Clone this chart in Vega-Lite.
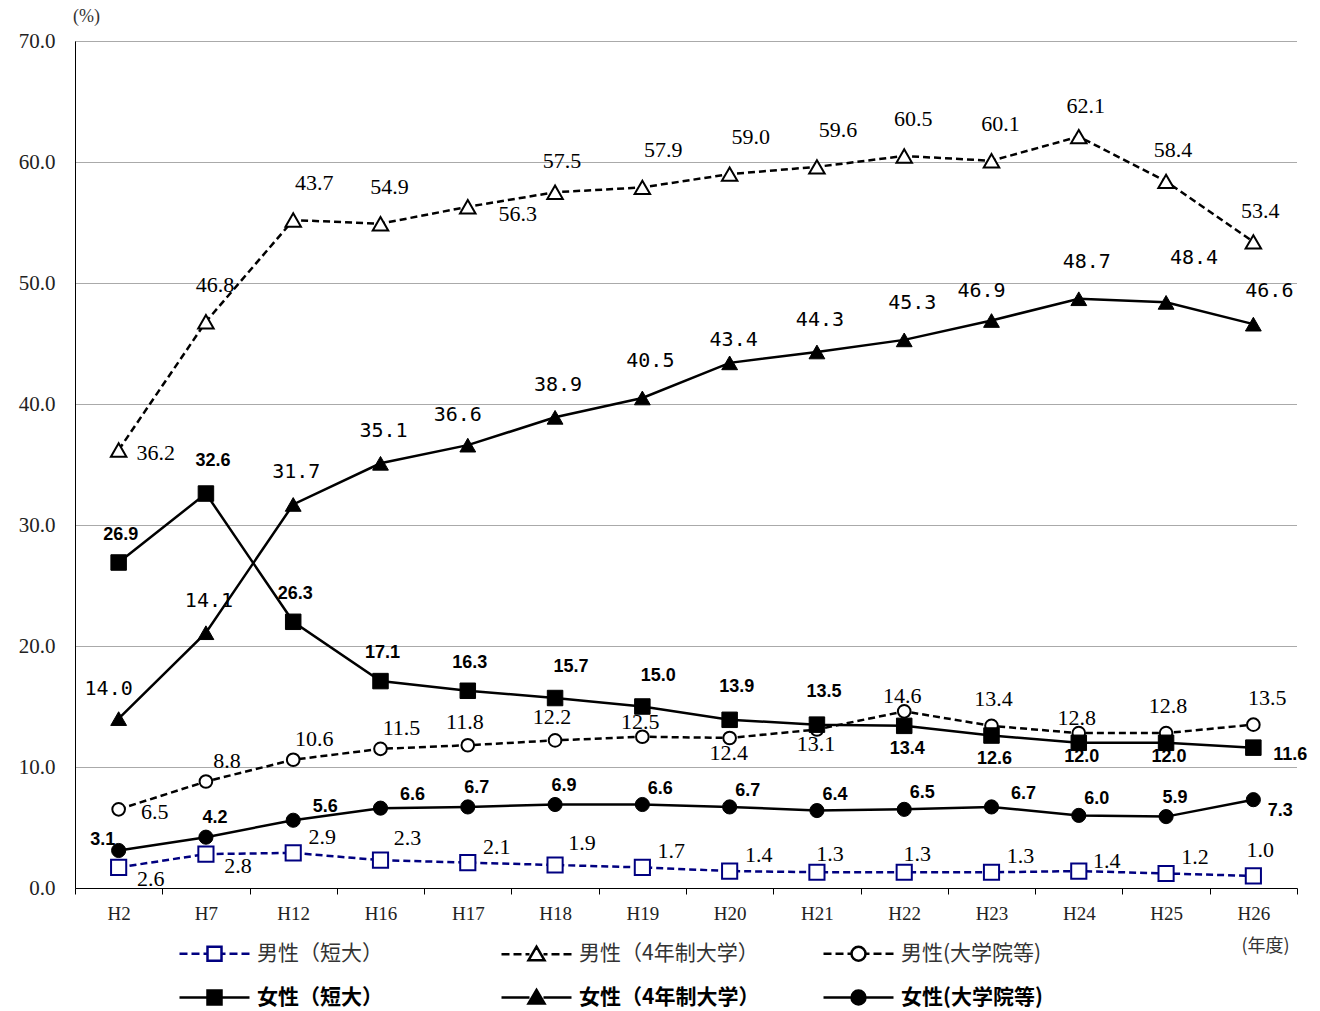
{
"$schema":"https://vega.github.io/schema/vega-lite/v6.json",
"width":1222,"height":847,"autosize":"none",
"padding":{"left":75,"top":41,"right":23,"bottom":123},
"background":"white",
"config":{
 "view":{"stroke":null},
 "style":{
  "ml":{"font":"Liberation Serif","fontSize":22,"fill":"#3a3a3a"},
  "fm":{"font":"DejaVu Sans Mono","fontSize":20,"fill":"#000"},
  "fb":{"font":"Liberation Sans","fontSize":18,"fontWeight":"bold","fill":"#000"}
 },
 "legend":{"orient":"none","legendX":118,"legendY":891,"columns":3,"direction":"horizontal","symbolSize":1600,"symbolStrokeWidth":2.5,"labelFont":"Noto Sans CJK JP","labelFontSize":21,"labelOffset":21,"columnPadding":58,"rowPadding":10,"gridAlign":"all","padding":0,"labelLimit":400}
},
"data":{"values":[
{"s":"男性（短大）","year":"H2","v":1.7,"t":"2.6"},
{"s":"男性（短大）","year":"H7","v":2.8,"t":"2.8"},
{"s":"男性（短大）","year":"H12","v":2.9,"t":"2.9"},
{"s":"男性（短大）","year":"H16","v":2.3,"t":"2.3"},
{"s":"男性（短大）","year":"H17","v":2.1,"t":"2.1"},
{"s":"男性（短大）","year":"H18","v":1.9,"t":"1.9"},
{"s":"男性（短大）","year":"H19","v":1.7,"t":"1.7"},
{"s":"男性（短大）","year":"H20","v":1.4,"t":"1.4"},
{"s":"男性（短大）","year":"H21","v":1.3,"t":"1.3"},
{"s":"男性（短大）","year":"H22","v":1.3,"t":"1.3"},
{"s":"男性（短大）","year":"H23","v":1.3,"t":"1.3"},
{"s":"男性（短大）","year":"H24","v":1.4,"t":"1.4"},
{"s":"男性（短大）","year":"H25","v":1.2,"t":"1.2"},
{"s":"男性（短大）","year":"H26","v":1.0,"t":"1.0"},
{"s":"男性（4年制大学）","year":"H2","v":36.2,"t":"36.2"},
{"s":"男性（4年制大学）","year":"H7","v":46.8,"t":"46.8"},
{"s":"男性（4年制大学）","year":"H12","v":55.2,"t":"43.7"},
{"s":"男性（4年制大学）","year":"H16","v":54.9,"t":"54.9"},
{"s":"男性（4年制大学）","year":"H17","v":56.3,"t":"56.3"},
{"s":"男性（4年制大学）","year":"H18","v":57.5,"t":"57.5"},
{"s":"男性（4年制大学）","year":"H19","v":57.9,"t":"57.9"},
{"s":"男性（4年制大学）","year":"H20","v":59.0,"t":"59.0"},
{"s":"男性（4年制大学）","year":"H21","v":59.6,"t":"59.6"},
{"s":"男性（4年制大学）","year":"H22","v":60.5,"t":"60.5"},
{"s":"男性（4年制大学）","year":"H23","v":60.1,"t":"60.1"},
{"s":"男性（4年制大学）","year":"H24","v":62.1,"t":"62.1"},
{"s":"男性（4年制大学）","year":"H25","v":58.4,"t":"58.4"},
{"s":"男性（4年制大学）","year":"H26","v":53.4,"t":"53.4"},
{"s":"男性(大学院等)","year":"H2","v":6.5,"t":"6.5"},
{"s":"男性(大学院等)","year":"H7","v":8.8,"t":"8.8"},
{"s":"男性(大学院等)","year":"H12","v":10.6,"t":"10.6"},
{"s":"男性(大学院等)","year":"H16","v":11.5,"t":"11.5"},
{"s":"男性(大学院等)","year":"H17","v":11.8,"t":"11.8"},
{"s":"男性(大学院等)","year":"H18","v":12.2,"t":"12.2"},
{"s":"男性(大学院等)","year":"H19","v":12.5,"t":"12.5"},
{"s":"男性(大学院等)","year":"H20","v":12.4,"t":"12.4"},
{"s":"男性(大学院等)","year":"H21","v":13.1,"t":"13.1"},
{"s":"男性(大学院等)","year":"H22","v":14.6,"t":"14.6"},
{"s":"男性(大学院等)","year":"H23","v":13.4,"t":"13.4"},
{"s":"男性(大学院等)","year":"H24","v":12.8,"t":"12.8"},
{"s":"男性(大学院等)","year":"H25","v":12.8,"t":"12.8"},
{"s":"男性(大学院等)","year":"H26","v":13.5,"t":"13.5"},
{"s":"女性（短大）","year":"H2","v":26.9,"t":"26.9"},
{"s":"女性（短大）","year":"H7","v":32.6,"t":"32.6"},
{"s":"女性（短大）","year":"H12","v":22.0,"t":"26.3"},
{"s":"女性（短大）","year":"H16","v":17.1,"t":"17.1"},
{"s":"女性（短大）","year":"H17","v":16.3,"t":"16.3"},
{"s":"女性（短大）","year":"H18","v":15.7,"t":"15.7"},
{"s":"女性（短大）","year":"H19","v":15.0,"t":"15.0"},
{"s":"女性（短大）","year":"H20","v":13.9,"t":"13.9"},
{"s":"女性（短大）","year":"H21","v":13.5,"t":"13.5"},
{"s":"女性（短大）","year":"H22","v":13.4,"t":"13.4"},
{"s":"女性（短大）","year":"H23","v":12.6,"t":"12.6"},
{"s":"女性（短大）","year":"H24","v":12.0,"t":"12.0"},
{"s":"女性（短大）","year":"H25","v":12.0,"t":"12.0"},
{"s":"女性（短大）","year":"H26","v":11.6,"t":"11.6"},
{"s":"女性（4年制大学）","year":"H2","v":14.0,"t":"14.0"},
{"s":"女性（4年制大学）","year":"H7","v":21.1,"t":"14.1"},
{"s":"女性（4年制大学）","year":"H12","v":31.7,"t":"31.7"},
{"s":"女性（4年制大学）","year":"H16","v":35.1,"t":"35.1"},
{"s":"女性（4年制大学）","year":"H17","v":36.6,"t":"36.6"},
{"s":"女性（4年制大学）","year":"H18","v":38.9,"t":"38.9"},
{"s":"女性（4年制大学）","year":"H19","v":40.5,"t":"40.5"},
{"s":"女性（4年制大学）","year":"H20","v":43.4,"t":"43.4"},
{"s":"女性（4年制大学）","year":"H21","v":44.3,"t":"44.3"},
{"s":"女性（4年制大学）","year":"H22","v":45.3,"t":"45.3"},
{"s":"女性（4年制大学）","year":"H23","v":46.9,"t":"46.9"},
{"s":"女性（4年制大学）","year":"H24","v":48.7,"t":"48.7"},
{"s":"女性（4年制大学）","year":"H25","v":48.4,"t":"48.4"},
{"s":"女性（4年制大学）","year":"H26","v":46.6,"t":"46.6"},
{"s":"女性(大学院等)","year":"H2","v":3.1,"t":"3.1"},
{"s":"女性(大学院等)","year":"H7","v":4.2,"t":"4.2"},
{"s":"女性(大学院等)","year":"H12","v":5.6,"t":"5.6"},
{"s":"女性(大学院等)","year":"H16","v":6.6,"t":"6.6"},
{"s":"女性(大学院等)","year":"H17","v":6.7,"t":"6.7"},
{"s":"女性(大学院等)","year":"H18","v":6.9,"t":"6.9"},
{"s":"女性(大学院等)","year":"H19","v":6.9,"t":"6.6"},
{"s":"女性(大学院等)","year":"H20","v":6.7,"t":"6.7"},
{"s":"女性(大学院等)","year":"H21","v":6.4,"t":"6.4"},
{"s":"女性(大学院等)","year":"H22","v":6.5,"t":"6.5"},
{"s":"女性(大学院等)","year":"H23","v":6.7,"t":"6.7"},
{"s":"女性(大学院等)","year":"H24","v":6.0,"t":"6.0"},
{"s":"女性(大学院等)","year":"H25","v":5.9,"t":"5.9"},
{"s":"女性(大学院等)","year":"H26","v":7.3,"t":"7.3"}
]},
"encoding":{
 "x":{"field":"year","type":"ordinal","bandPosition":0.5,
  "sort":["H2","H7","H12","H16","H17","H18","H19","H20","H21","H22","H23","H24","H25","H26"],
  "scale":{"type":"band","paddingInner":0,"paddingOuter":0},
  "axis":{"title":"(年度)","titleFont":"Noto Sans CJK JP","titleFontSize":18,"titleFontWeight":"normal","titleColor":"#333","titleX":1190,"titleY":58,"titleAlign":"center","titleBaseline":"middle",
   "labelAngle":0,"labelFont":"Liberation Serif","labelFontSize":19,"labelColor":"#222","labelPadding":10,"tickBand":"extent","tickSize":6,"tickColor":"#000","domainColor":"#000","grid":false}},
 "y":{"field":"v","type":"quantitative","scale":{"domain":[0,70]},
  "axis":{"values":[0,10,20,30,40,50,60,70],"format":".1f","ticks":false,"labelPadding":20,"labelFont":"Liberation Serif","labelFontSize":21,"labelColor":"#222","domainColor":"#000","gridColor":"#555","gridDash":[1,1],"gridWidth":1,
   "title":"(%)","titleAngle":0,"titleX":11,"titleY":-25,"titleAlign":"center","titleBaseline":"middle","titleFont":"Liberation Serif","titleFontSize":18,"titleFontWeight":"normal","titleColor":"#333"}}
},
"layer":[
 {"transform":[{"filter":"false"}],
  "mark":{"type":"point","filled":true,"opacity":1},
  "encoding":{
   "shape":{"field":"s","type":"nominal","scale":{"domain":["男性（短大）","男性（4年制大学）","男性(大学院等)","女性（短大）","女性（4年制大学）","女性(大学院等)"],
     "range":["M-1.75,0L-1.35,0M-1.15,0L-0.75,0M-0.55,0L-0.35,0M0.35,0L0.55,0M0.75,0L1.15,0M1.35,0L1.75,0M-0.35,-0.35L0.35,-0.35L0.35,0.35L-0.35,0.35Z",
      "M-1.75,0L-1.35,0M-1.15,0L-0.75,0M-0.55,0L-0.35,0M0.35,0L0.55,0M0.75,0L1.15,0M1.35,0L1.75,0M0,-0.38L0.4,0.3L-0.4,0.3Z",
      "M-1.75,0L-1.35,0M-1.15,0L-0.75,0M-0.55,0L-0.35,0M0.35,0L0.55,0M0.75,0L1.15,0M1.35,0L1.75,0M-0.35,0A0.35,0.35,0,1,0,0.35,0A0.35,0.35,0,1,0,-0.35,0Z",
      "M-1.75,0L-0.35,0M0.35,0L1.75,0M-0.35,-0.35L0.35,-0.35L0.35,0.35L-0.35,0.35Z",
      "M-1.75,0L-0.35,0M0.35,0L1.75,0M0,-0.38L0.4,0.3L-0.4,0.3Z",
      "M-1.75,0L-0.35,0M0.35,0L1.75,0M-0.35,0A0.35,0.35,0,1,0,0.35,0A0.35,0.35,0,1,0,-0.35,0Z"]},
    "legend":{"title":null,"labelFontWeight":{"expr":"indexof(datum.label,'女性')===0?'bold':'normal'"},"labelColor":{"expr":"indexof(datum.label,'女性')===0?'#000':'#333'"}}},
   "fill":{"field":"s","type":"nominal","scale":{"domain":["男性（短大）","男性（4年制大学）","男性(大学院等)","女性（短大）","女性（4年制大学）","女性(大学院等)"],"range":["#fff","#fff","#fff","#000","#000","#000"]},
    "legend":{"title":null,"labelFontWeight":{"expr":"indexof(datum.label,'女性')===0?'bold':'normal'"},"labelColor":{"expr":"indexof(datum.label,'女性')===0?'#000':'#333'"}}},
   "stroke":{"field":"s","type":"nominal","scale":{"domain":["男性（短大）","男性（4年制大学）","男性(大学院等)","女性（短大）","女性（4年制大学）","女性(大学院等)"],"range":["#000080","#000","#000","#000","#000","#000"]},
    "legend":{"title":null,"labelFontWeight":{"expr":"indexof(datum.label,'女性')===0?'bold':'normal'"},"labelColor":{"expr":"indexof(datum.label,'女性')===0?'#000':'#333'"}}}
  }},
 {"transform":[{"filter":{"field":"s","equal":"男性（短大）"}}],"mark":{"type":"line","stroke":"#000080","strokeWidth":2.5,"strokeDash":[7,4]},"encoding":{}},
 {"transform":[{"filter":{"field":"s","oneOf":["男性（4年制大学）","男性(大学院等)"]}}],"mark":{"type":"line","stroke":"#000","strokeWidth":2.5,"strokeDash":[7,4]},"encoding":{"detail":{"field":"s"}}},
 {"transform":[{"filter":{"field":"s","oneOf":["女性（短大）","女性（4年制大学）","女性(大学院等)"]}}],"mark":{"type":"line","stroke":"#000","strokeWidth":2.5},"encoding":{"detail":{"field":"s"}}},
 {"transform":[{"filter":{"field":"s","equal":"男性（短大）"}}],"mark":{"type":"point","shape":"square","size":230,"fill":"#fff","filled":true,"stroke":"#000080","strokeWidth":2,"opacity":1}},
 {"transform":[{"filter":{"field":"s","equal":"男性（4年制大学）"}}],"mark":{"type":"point","shape":"triangle-up","size":240,"fill":"#fff","filled":true,"stroke":"#000","strokeWidth":2,"opacity":1}},
 {"transform":[{"filter":{"field":"s","equal":"男性(大学院等)"}}],"mark":{"type":"point","shape":"circle","size":160,"fill":"#fff","filled":true,"stroke":"#000","strokeWidth":2,"opacity":1}},
 {"transform":[{"filter":{"field":"s","equal":"女性（短大）"}}],"mark":{"type":"point","shape":"square","size":240,"fill":"#000","filled":true,"stroke":"#000","strokeWidth":1,"opacity":1}},
 {"transform":[{"filter":{"field":"s","equal":"女性（4年制大学）"}}],"mark":{"type":"point","shape":"triangle-up","size":250,"fill":"#000","filled":true,"stroke":"#000","strokeWidth":1,"opacity":1}},
 {"transform":[{"filter":{"field":"s","equal":"女性(大学院等)"}}],"mark":{"type":"point","shape":"circle","size":200,"fill":"#000","filled":true,"stroke":"#000","strokeWidth":1,"opacity":1}},

 {"transform":[{"filter":{"and":[{"field":"s","equal":"男性（4年制大学）"},{"field":"year","oneOf":["H12","H19","H20","H21"]}]}}],"mark":{"type":"text","style":"ml","dx":21,"dy":-37},"encoding":{"text":{"field":"t"}}},
 {"transform":[{"filter":{"and":[{"field":"s","equal":"男性（4年制大学）"},{"field":"year","oneOf":["H7","H16","H22","H23"]}]}}],"mark":{"type":"text","style":"ml","dx":9,"dy":-37},"encoding":{"text":{"field":"t"}}},
 {"transform":[{"filter":{"and":[{"field":"s","equal":"男性（4年制大学）"},{"field":"year","oneOf":["H18","H24","H25","H26"]}]}}],"mark":{"type":"text","style":"ml","dx":7,"dy":-31},"encoding":{"text":{"field":"t"}}},
 {"transform":[{"filter":{"and":[{"field":"s","equal":"男性（4年制大学）"},{"field":"year","oneOf":["H2"]}]}}],"mark":{"type":"text","style":"ml","dx":37,"dy":3},"encoding":{"text":{"field":"t"}}},
 {"transform":[{"filter":{"and":[{"field":"s","equal":"男性（4年制大学）"},{"field":"year","oneOf":["H17"]}]}}],"mark":{"type":"text","style":"ml","dx":50,"dy":7},"encoding":{"text":{"field":"t"}}},

 {"transform":[{"filter":{"and":[{"field":"s","equal":"女性（4年制大学）"},{"field":"year","oneOf":["H7","H12","H16","H18","H21"]}]}}],"mark":{"type":"text","style":"fm","dx":3,"dy":-32},"encoding":{"text":{"field":"t"}}},
 {"transform":[{"filter":{"and":[{"field":"s","equal":"女性（4年制大学）"},{"field":"year","oneOf":["H19","H22","H24"]}]}}],"mark":{"type":"text","style":"fm","dx":8,"dy":-37},"encoding":{"text":{"field":"t"}}},
 {"transform":[{"filter":{"and":[{"field":"s","equal":"女性（4年制大学）"},{"field":"year","oneOf":["H2","H17","H23"]}]}}],"mark":{"type":"text","style":"fm","dx":-10,"dy":-30},"encoding":{"text":{"field":"t"}}},
 {"transform":[{"filter":{"and":[{"field":"s","equal":"女性（4年制大学）"},{"field":"year","oneOf":["H20"]}]}}],"mark":{"type":"text","style":"fm","dx":4,"dy":-23},"encoding":{"text":{"field":"t"}}},
 {"transform":[{"filter":{"and":[{"field":"s","equal":"女性（4年制大学）"},{"field":"year","oneOf":["H25"]}]}}],"mark":{"type":"text","style":"fm","dx":28,"dy":-44},"encoding":{"text":{"field":"t"}}},
 {"transform":[{"filter":{"and":[{"field":"s","equal":"女性（4年制大学）"},{"field":"year","oneOf":["H26"]}]}}],"mark":{"type":"text","style":"fm","dx":16,"dy":-33},"encoding":{"text":{"field":"t"}}},

 {"transform":[{"filter":{"and":[{"field":"s","equal":"女性（短大）"},{"field":"year","oneOf":["H2","H12","H16","H17"]}]}}],"mark":{"type":"text","style":"fb","dx":2,"dy":-28},"encoding":{"text":{"field":"t"}}},
 {"transform":[{"filter":{"and":[{"field":"s","equal":"女性（短大）"},{"field":"year","oneOf":["H7","H20","H21"]}]}}],"mark":{"type":"text","style":"fb","dx":7,"dy":-33},"encoding":{"text":{"field":"t"}}},
 {"transform":[{"filter":{"and":[{"field":"s","equal":"女性（短大）"},{"field":"year","oneOf":["H18","H19"]}]}}],"mark":{"type":"text","style":"fb","dx":16,"dy":-31},"encoding":{"text":{"field":"t"}}},
 {"transform":[{"filter":{"and":[{"field":"s","equal":"女性（短大）"},{"field":"year","oneOf":["H22","H23"]}]}}],"mark":{"type":"text","style":"fb","dx":3,"dy":23},"encoding":{"text":{"field":"t"}}},
 {"transform":[{"filter":{"and":[{"field":"s","equal":"女性（短大）"},{"field":"year","oneOf":["H24","H25"]}]}}],"mark":{"type":"text","style":"fb","dx":3,"dy":14},"encoding":{"text":{"field":"t"}}},
 {"transform":[{"filter":{"and":[{"field":"s","equal":"女性（短大）"},{"field":"year","oneOf":["H26"]}]}}],"mark":{"type":"text","style":"fb","dx":37,"dy":7},"encoding":{"text":{"field":"t"}}},

 {"transform":[{"filter":{"and":[{"field":"s","equal":"男性(大学院等)"},{"field":"year","oneOf":["H2"]}]}}],"mark":{"type":"text","style":"ml","dx":36,"dy":3},"encoding":{"text":{"field":"t"}}},
 {"transform":[{"filter":{"and":[{"field":"s","equal":"男性(大学院等)"},{"field":"year","oneOf":["H7","H12","H16"]}]}}],"mark":{"type":"text","style":"ml","dx":21,"dy":-21},"encoding":{"text":{"field":"t"}}},
 {"transform":[{"filter":{"and":[{"field":"s","equal":"男性(大学院等)"},{"field":"year","oneOf":["H17","H18"]}]}}],"mark":{"type":"text","style":"ml","dx":-3,"dy":-23},"encoding":{"text":{"field":"t"}}},
 {"transform":[{"filter":{"and":[{"field":"s","equal":"男性(大学院等)"},{"field":"year","oneOf":["H19","H22","H24"]}]}}],"mark":{"type":"text","style":"ml","dx":-2,"dy":-15},"encoding":{"text":{"field":"t"}}},
 {"transform":[{"filter":{"and":[{"field":"s","equal":"男性(大学院等)"},{"field":"year","oneOf":["H23","H25"]}]}}],"mark":{"type":"text","style":"ml","dx":2,"dy":-27},"encoding":{"text":{"field":"t"}}},
 {"transform":[{"filter":{"and":[{"field":"s","equal":"男性(大学院等)"},{"field":"year","oneOf":["H26"]}]}}],"mark":{"type":"text","style":"ml","dx":14,"dy":-27},"encoding":{"text":{"field":"t"}}},
 {"transform":[{"filter":{"and":[{"field":"s","equal":"男性(大学院等)"},{"field":"year","oneOf":["H20","H21"]}]}}],"mark":{"type":"text","style":"ml","dx":-1,"dy":15},"encoding":{"text":{"field":"t"}}},

 {"transform":[{"filter":{"and":[{"field":"s","equal":"女性(大学院等)"},{"field":"year","oneOf":["H2"]}]}}],"mark":{"type":"text","style":"fb","dx":-16,"dy":-10},"encoding":{"text":{"field":"t"}}},
 {"transform":[{"filter":{"and":[{"field":"s","equal":"女性(大学院等)"},{"field":"year","oneOf":["H7","H17","H18","H25"]}]}}],"mark":{"type":"text","style":"fb","dx":9,"dy":-19},"encoding":{"text":{"field":"t"}}},
 {"transform":[{"filter":{"and":[{"field":"s","equal":"女性(大学院等)"},{"field":"year","oneOf":["H19","H20","H21","H22","H24"]}]}}],"mark":{"type":"text","style":"fb","dx":18,"dy":-16},"encoding":{"text":{"field":"t"}}},
 {"transform":[{"filter":{"and":[{"field":"s","equal":"女性(大学院等)"},{"field":"year","oneOf":["H12","H16","H23"]}]}}],"mark":{"type":"text","style":"fb","dx":32,"dy":-13},"encoding":{"text":{"field":"t"}}},
 {"transform":[{"filter":{"and":[{"field":"s","equal":"女性(大学院等)"},{"field":"year","oneOf":["H26"]}]}}],"mark":{"type":"text","style":"fb","dx":27,"dy":11},"encoding":{"text":{"field":"t"}}},

 {"transform":[{"filter":{"and":[{"field":"s","equal":"男性（短大）"},{"field":"year","oneOf":["H2","H7"]}]}}],"mark":{"type":"text","style":"ml","dx":32,"dy":12},"encoding":{"text":{"field":"t"}}},
 {"transform":[{"filter":{"and":[{"field":"s","equal":"男性（短大）"},{"field":"year","oneOf":["H12","H17","H19","H20","H23","H25"]}]}}],"mark":{"type":"text","style":"ml","dx":29,"dy":-16},"encoding":{"text":{"field":"t"}}},
 {"transform":[{"filter":{"and":[{"field":"s","equal":"男性（短大）"},{"field":"year","oneOf":["H16","H18"]}]}}],"mark":{"type":"text","style":"ml","dx":27,"dy":-22},"encoding":{"text":{"field":"t"}}},
 {"transform":[{"filter":{"and":[{"field":"s","equal":"男性（短大）"},{"field":"year","oneOf":["H21","H22"]}]}}],"mark":{"type":"text","style":"ml","dx":13,"dy":-18},"encoding":{"text":{"field":"t"}}},
 {"transform":[{"filter":{"and":[{"field":"s","equal":"男性（短大）"},{"field":"year","oneOf":["H24"]}]}}],"mark":{"type":"text","style":"ml","dx":28,"dy":-10},"encoding":{"text":{"field":"t"}}},
 {"transform":[{"filter":{"and":[{"field":"s","equal":"男性（短大）"},{"field":"year","oneOf":["H26"]}]}}],"mark":{"type":"text","style":"ml","dx":7,"dy":-26},"encoding":{"text":{"field":"t"}}}
]
}
